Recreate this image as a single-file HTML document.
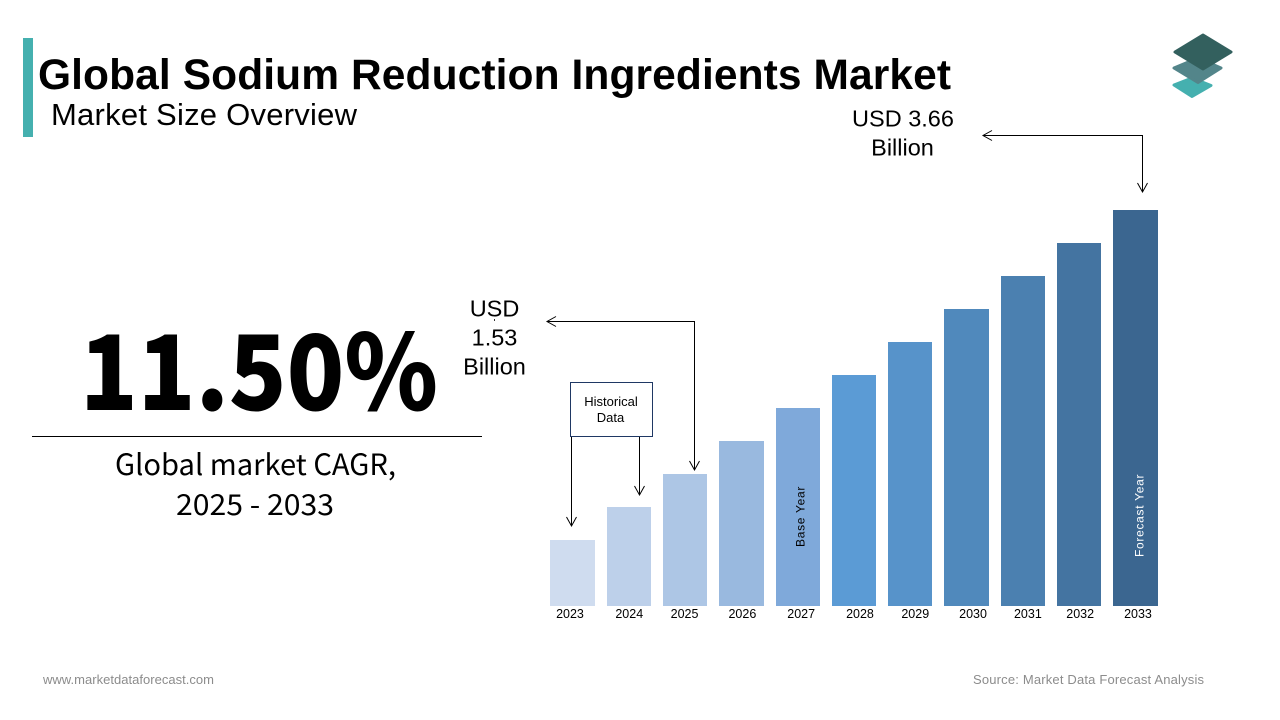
<!DOCTYPE html>
<html lang="en">
<head>
<meta charset="utf-8">
<title>Global Sodium Reduction Ingredients Market</title>
<style>
  html, body { margin: 0; padding: 0; background: #fff; width: 1280px; height: 720px; overflow: hidden; }
  svg { display: block; }
  text { font-family: "Liberation Sans", sans-serif; }
  .cjk { font-family: "Noto Sans CJK JP", "DejaVu Sans", sans-serif; }
</style>
</head>
<body>
<svg id="slide" width="1280" height="720" viewBox="0 0 1280 720" xmlns="http://www.w3.org/2000/svg">
  <rect x="0" y="0" width="1280" height="720" fill="#ffffff"/>
  <rect x="23" y="38" width="10" height="99" fill="#45B0AF"/>
  <text x="38" y="89" font-size="42.5" font-weight="700" fill="#000" textLength="913" lengthAdjust="spacing">Global Sodium Reduction Ingredients Market</text>
  <text x="51" y="125" font-size="31" fill="#000" textLength="306" lengthAdjust="spacing">Market Size Overview</text>

  <g stroke-linejoin="round">
    <polygon points="1192,78 1211,85.5 1192,96.500 1174,85" fill="#45B0AF" stroke="#45B0AF" stroke-width="3"/>
    <polygon points="1198,58 1221,68 1198,82.500 1174,68" fill="#53858A" stroke="#53858A" stroke-width="3"/>
    <polygon points="1203,35 1231,52 1203,69 1175,52" fill="#33605E" stroke="#33605E" stroke-width="3"/>
  </g>

  <text class="cjk" x="80" y="410" font-size="104" font-weight="900" fill="#000" textLength="358" lengthAdjust="spacingAndGlyphs">11.50%</text>
  <line x1="32" y1="436.5" x2="482" y2="436.5" stroke="#000" stroke-width="1"/>
  <text class="cjk" x="115" y="475" font-size="29" fill="#000" textLength="281" lengthAdjust="spacingAndGlyphs">Global market CAGR,</text>
  <text class="cjk" x="176" y="515" font-size="29" fill="#000" textLength="158" lengthAdjust="spacingAndGlyphs">2025 - 2033</text>

  <g>
    <text x="903" y="126.5" font-size="23.5" text-anchor="middle" fill="#000">USD 3.66</text>
    <text x="902.5" y="155.5" font-size="23.5" text-anchor="middle" fill="#000">Billion</text>
    <path d="M983 135.5H1142.5V192M992 130.5L983 135.5L992 140.500M1137.500 183L1142.5 192L1147.500 183" fill="none" stroke="#000" stroke-width="1"/>
  </g>
  <g>
    <text x="494.5" y="316.5" font-size="23.5" text-anchor="middle" fill="#000">USD</text>
    <text x="494.5" y="345.5" font-size="23.5" text-anchor="middle" fill="#000">1.53</text>
    <text x="494.5" y="374.5" font-size="23.5" text-anchor="middle" fill="#000">Billion</text>
    <line x1="494.5" y1="319" x2="494.5" y2="321" stroke="#333" stroke-width="1"/>
    <path d="M547 321.5H694.5V470M556 316.500L547 321.5L556 326.500M689.500 461L694.5 470L699.500 461" fill="none" stroke="#000" stroke-width="1"/>
  </g>

  <g id="bars"></g>
  <g id="ticks"></g>

  <g>
    <rect x="570.5" y="382.5" width="82" height="54" fill="#fff" stroke="#1F3864" stroke-width="1"/>
    <text x="611" y="406" font-size="13" text-anchor="middle" fill="#000">Historical</text>
    <text x="610.5" y="422" font-size="13" text-anchor="middle" fill="#000">Data</text>
    <path d="M571.5 437V526M566.500 517L571.5 526L576.500 517" fill="none" stroke="#000" stroke-width="1"/>
    <path d="M639.5 437V495M634.500 486L639.5 495L644.500 486" fill="none" stroke="#000" stroke-width="1"/>
  </g>

  <text transform="translate(804.5,547) rotate(-90)" font-size="12" letter-spacing="0.7" fill="#000">Base Year</text>
  <text transform="translate(1143.5,557) rotate(-90)" font-size="12" letter-spacing="0.7" fill="#fff">Forecast Year</text>

  <text x="43" y="684" font-size="13" fill="#8C8C8C" textLength="171" lengthAdjust="spacing">www.marketdataforecast.com</text>
  <text x="973" y="684" font-size="13" fill="#8C8C8C" textLength="231" lengthAdjust="spacing">Source: Market Data Forecast Analysis</text>
</svg>

<script>
const categories = ["2023", "2024", "2025", "2026", "2027", "2028", "2029", "2030", "2031", "2032", "2033"];
const marketSize = [1.00, 1.26, 1.53, 1.80, 2.06, 2.33, 2.595, 2.86, 3.13, 3.395, 3.66];
const barColors = ["#CFDCEF", "#BDD0EA", "#ADC6E5", "#99B9DF", "#7FA9DA", "#5B9BD5", "#5793CA", "#5089BC", "#4B80B0", "#4474A1", "#3B6690"];

const SVG_NS = "http://www.w3.org/2000/svg";
const baseY = 606;
const plotLeft = 550.3;
const bandStep = 56.3;
const barWidth = 44.35;
const pxPerUnit = 123.9;
const axisFloor = 0.465;
const tickNudge = [-2.5, 0.5, -0.5, 1, 3.5, 6, 5, 6.5, 5, 1, 2.5];

function xBand(i) { return plotLeft + i * bandStep; }
function yValue(v) { return baseY - (v - axisFloor) * pxPerUnit; }

const barsGroup = document.getElementById("bars");
const ticksGroup = document.getElementById("ticks");

categories.forEach(function (cat, i) {
  const left = Math.round(xBand(i));
  const right = Math.round(xBand(i) + barWidth);
  const top = Math.round(yValue(marketSize[i]));

  const bar = document.createElementNS(SVG_NS, "rect");
  bar.setAttribute("x", left);
  bar.setAttribute("y", top);
  bar.setAttribute("width", right - left);
  bar.setAttribute("height", baseY - top);
  bar.setAttribute("fill", barColors[i]);
  
  
  barsGroup.appendChild(bar);

  const tick = document.createElementNS(SVG_NS, "text");
  tick.setAttribute("x", xBand(i) + barWidth / 2 + tickNudge[i]);
  tick.setAttribute("y", 618);
  tick.setAttribute("font-size", "12.5");
  tick.setAttribute("text-anchor", "middle");
  tick.setAttribute("fill", "#000");
  tick.textContent = cat;
  
  
  ticksGroup.appendChild(tick);
});
</script>
</body>
</html>
